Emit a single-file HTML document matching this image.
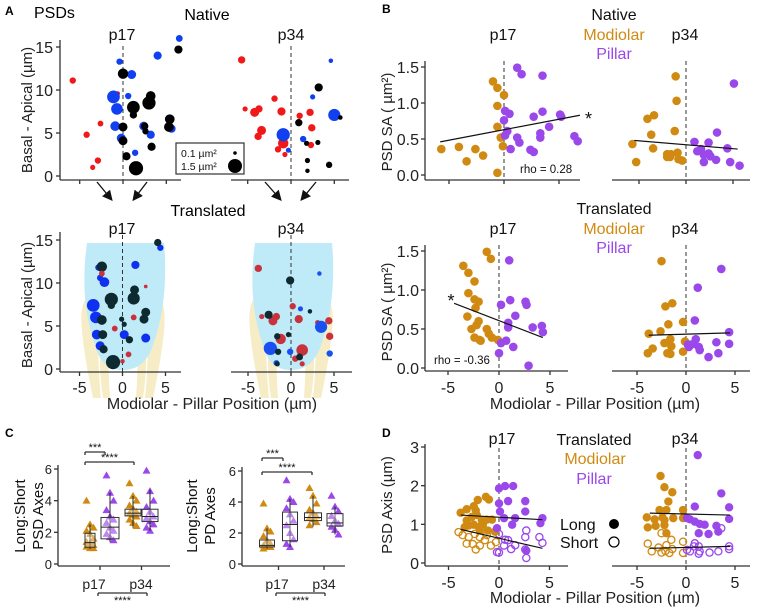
<!DOCTYPE html>
<html><head><meta charset="utf-8">
<style>
body{margin:0;background:#fff}
svg{display:block;font-family:"Liberation Sans",sans-serif}
</style></head>
<body>
<svg id="fig" width="758" height="609" viewBox="0 0 758 609">
<g id="static">
<text x="5" y="15" font-size="12" font-weight="bold">A</text>
<text x="34" y="18" font-size="16">PSDs</text>
<text x="207" y="20" font-size="16" text-anchor="middle">Native</text>
<text x="208" y="216" font-size="16" text-anchor="middle">Translated</text>
<text x="382" y="13" font-size="12" font-weight="bold">B</text>
<text x="5" y="437" font-size="12" font-weight="bold">C</text>
<text x="382" y="437" font-size="12" font-weight="bold">D</text>
</g>
<g id="plots"></g>
</svg>
<script>
// ---------- DATA ----------
const aNat17Red=[[-5.8,11.1,.3],[-4.2,4.8,.3],[-2.6,6.1,.25],[-2.9,1.8,.3],[-3.5,1.0,.2],[-0.6,9.6,.15]];
const aNat17Blue=[[-0.4,13.3,.3],[1.0,11.8,.6],[-1.1,9.2,1.2],[-0.7,7.8,1.0],[-0.9,5.8,.7],[0.6,9.3,.3],[-0.2,4.4,.6],[1.4,2.7,.3],[2.4,5.8,.6],[3.2,4.8,.5],[4.0,14.0,.5],[5.6,5.5,.5],[6.5,16.0,.35]];
const aNat17Black=[[0,11.9,.8],[0,5.7,.6],[0,4.1,.6],[1.2,8.0,1.2],[1.2,7.1,.4],[3.0,8.5,1.3],[3.2,9.3,.7],[2.5,5.8,.4],[2.6,5.2,.3],[3.3,3.4,.5],[5.4,6.6,.7],[5.3,5.7,.7],[0.4,2.3,.5],[1.5,0.9,1.5],[6.4,14.7,.5]];
const aNat34Red=[[-5.7,13.5,.4],[-5.3,7.8,.2],[-4.2,7.4,.6],[-3.7,7.8,.4],[-3.4,5.3,.6],[-3.8,4.6,.4],[-1.9,9.0,.3],[-1.1,7.5,.5],[-0.9,3.8,.8],[-1.5,3.1,.3],[-0.7,2.5,.2],[1.0,7.0,.3],[2.2,7.4,.4],[2.4,5.6,.4],[2.3,3.6,.3]];
const aNat34Blue=[[-0.9,4.8,1.3],[-0.3,3.0,.2],[1.4,4.3,.3],[2.5,9.2,.2],[4.6,13.4,.15],[5.0,7.1,1.1]];
const aNat34Black=[[3.2,10.3,.5],[0.9,6.2,.4],[1.8,3.8,.2],[3.1,3.9,.2],[1.9,1.8,.2],[1.9,0.6,.15],[4.4,1.3,.3],[5.7,6.8,.15]];
const aTr17Dark=[[-2.4,11.9,.8],[-1.3,8.1,1.3],[-1.3,7.4,.4],[1.3,8.2,1.1],[1.4,9.2,.6],[-2.4,5.7,.7],[-2.3,4.0,.6],[-2.2,2.3,.5],[-0.1,5.8,.2],[0.2,5.2,.2],[0.8,3.4,.4],[2.7,6.6,.6],[2.5,5.8,.6],[-1.1,0.8,1.5],[4.1,14.7,.4]];
const aTr17Blue=[[-3.4,7.4,1.2],[-3.1,6.0,1.0],[-2.1,10.1,.7],[-2.6,10.6,.3],[-3.0,4.0,.7],[-2.6,2.7,.6],[0.2,4.0,.6],[1.5,12.1,.5],[2.7,3.6,.6],[4.4,14.1,.3],[-2.8,11.8,.3]];
const aTr17Red=[[-2.4,11.1,.25],[-0.9,4.7,.25],[1.3,6.0,.25],[0.7,1.7,.25],[2.7,9.6,.1],[0,0.9,.15]];
const aTr34Dark=[[-0.1,10.3,.5],[-2.6,6.3,.5],[-0.3,4.0,.2],[-1.6,3.8,.3],[-1.5,2.0,.3],[-1.6,0.6,.2],[1.0,1.4,.35],[2.2,6.7,.15]];
const aTr34Red=[[-3.8,11.7,.4],[-3.4,6.1,.2],[-2.1,5.6,.6],[-1.7,6.1,.4],[-1.2,3.5,.8],[0.2,7.3,.3],[0.9,5.8,.5],[1.3,2.2,1.0],[4.4,5.6,.4],[4.5,3.8,.4],[1.3,0.6,.2],[0.5,1.2,.3],[3.1,5.4,.2]];
const aTr34Blue=[[3.3,11.1,.15],[1.1,7.0,.2],[-2.4,2.4,1.3],[3.5,4.9,1.1],[-0.1,2.0,.3],[-1.7,0.7,.25],[4.5,1.8,.3]];
const bNat17Mod=[[-5.7,.36],[-4.1,.39],[-3.4,.19],[-2.6,.36],[-1.9,.27],[-1.0,1.30],[-0.6,1.21],[-0.6,.96],[0,1.11],[-0.6,.67],[-0.3,.52],[-0.1,.40],[-0.6,.03]];
const bNat17Pil=[[1.2,1.49],[1.6,1.40],[3.5,1.38],[0.1,.89],[.5,.85],[0,.76],[.3,.61],[.1,.55],[.6,.36],[1.2,.52],[1.4,.45],[2.7,.81],[3.5,.88],[4.1,.67],[3.3,.58],[3.3,.52],[2.4,.35],[2.7,.32],[5.1,.84],[5.2,.81],[6.4,.54],[6.7,.47]];
const bNat17Fit=[[-5.8,.46],[6.9,.83]];
const bNat34Mod=[[-5.7,.43],[-5.3,.18],[-4.1,.78],[-3.4,.83],[-3.7,.56],[-3.5,.37],[-1.1,1.37],[-1.0,1.03],[-1.2,.61],[-2.0,.29],[-1.6,.29],[-1.7,.25],[-.9,.31],[-.8,.22],[-.4,.20],[-2.0,.25]];
const bNat34Pil=[[.9,.46],[2.4,.45],[3.3,.59],[1.2,.33],[1.6,.36],[1.9,.28],[2.4,.30],[1.9,.18],[2.6,.26],[3.2,.21],[4.4,.37],[4.7,.18],[5.7,.13],[5.1,1.27]];
const bNat34Fit=[[-5.5,.48],[5.5,.36]];
const bTr17Mod=[[-3.5,1.31],[-3.0,1.22],[-2.4,1.11],[-3.0,.96],[-2.4,.88],[-2.0,.85],[-2.3,.77],[-3.1,.66],[-2.0,.60],[-2.2,.55],[-2.7,.50],[-2.4,.39],[-1.8,.35],[-1.2,.50],[-1.0,.44],[-.7,.39],[-.1,.36],[-1.2,1.49],[-.8,1.40],[-1.9,.36]];
const bTr17Pil=[[1.0,1.38],[.2,.81],[1.1,.87],[2.6,.85],[2.7,.81],[1.6,.67],[.9,.58],[.9,.52],[.7,.35],[.2,.32],[1.4,.27],[0,.19],[3.3,.52],[4.3,.46],[2.9,.03],[4.2,.54]];
const bTr17Fit=[[-4.4,.83],[4.3,.39]];
const bTr34Mod=[[-2.5,1.37],[-2.1,.79],[-1.4,.83],[-1.8,.56],[-.3,.59],[-3.8,.44],[-2.6,.47],[-3.9,.19],[-3.4,.25],[-2.2,.32],[-1.6,.37],[-1.5,.28],[-1.9,.19],[-1.6,.18],[-.3,.21],[-.1,.34]];
const bTr34Pil=[[3.6,1.27],[1.2,1.03],[.9,.61],[1.0,.37],[.2,.30],[.5,.30],[.8,.31],[1.3,.27],[1.4,.23],[2.3,.14],[3.1,.33],[3.3,.19],[4.4,.46],[4.4,.31],[.3,.27]];
const bTr34Fit=[[-3.8,.42],[4.5,.45]];
const d17ModLong=[[-3.8,1.30],[-3.2,1.39],[-2.5,1.47],[-2.1,1.63],[-1.3,1.71],[-1.0,1.64],[-3.2,1.10],[-2.7,1.19],[-2.2,1.24],[-2.3,1.36],[-1.7,1.10],[-1.2,1.12],[-.7,1.12],[-3.4,.93],[-2.5,.99],[-2.0,.93],[-3.0,.97],[-1.1,.84],[-.4,.81],[-1.6,.99],[-1.9,.84]];
const d17ModShort=[[-4.0,.80],[-3.6,.72],[-3.0,.67],[-2.4,.75],[-1.9,.67],[-1.2,.72],[-2.6,.49],[-1.9,.45],[-2.3,.35],[-.8,.45],[-.3,.54],[-1.4,.59],[-3.2,.50]];
const d17PilLong=[[0,1.93],[.6,1.99],[1.4,1.99],[0,1.54],[.9,1.60],[2.6,1.60],[.1,1.33],[.5,1.16],[1.6,1.16],[2.6,1.33],[1.3,.99],[4.1,1.03],[4.3,1.16],[-.2,.90],[2.7,.32]];
const d17PilShort=[[0,.75],[.6,.60],[.9,.59],[1.6,.46],[.5,.45],[1.2,.36],[0,.27],[-.2,.28],[2.6,.67],[2.7,.84],[4.0,.67],[4.3,.52],[2.7,.13],[2.6,.35]];
const d17FitLong=[[-3.8,1.24],[4.3,1.12]];
const d17FitShort=[[-3.8,.87],[4.3,.38]];
const d34ModLong=[[-2.6,2.25],[-2.2,1.96],[-1.4,1.83],[-1.8,1.59],[-2.0,1.37],[-2.7,1.37],[-4.0,1.18],[-2.4,1.18],[-1.3,1.16],[-2.2,1.11],[-.3,1.37],[-.3,1.16],[-3.2,1.13],[-3.1,.96],[-3.9,.92],[-2.2,.98],[-2.0,.77]];
const d34ModShort=[[-3.9,.50],[-2.5,.77],[-3.5,.30],[-2.8,.40],[-2.5,.27],[-2.0,.46],[-1.5,.60],[-1.4,.36],[-1.7,.26],[-.3,.55],[-.3,.26],[-2.1,.31]];
const d34PilLong=[[1.2,2.79],[3.6,1.80],[.9,1.46],[4.4,1.44],[4.4,1.14],[.1,1.16],[.4,1.13],[.9,1.07],[1.4,1.01],[1.9,.99],[3.1,.96],[3.3,.81],[1.3,.77],[2.3,.75]];
const d34PilShort=[[.1,.34],[.8,.43],[.9,.51],[1.3,.43],[1.4,.30],[2.4,.27],[3.3,.30],[3.6,.90],[4.4,.43],[4.4,.36],[.4,.30],[1.3,.24]];
const d34FitLong=[[-3.7,1.29],[4.5,1.24]];
const d34FitShort=[[-3.7,.38],[4.5,.43]];
const cGroups=["p17 modiolar","p17 pillar","p34 modiolar","p34 pillar"];
const cPsdStats=[[0.95,1.06,1.35,1.94,2.5],[1.4,1.59,2.33,2.94,4.5],[2.3,3.04,3.21,3.46,4.3],[2.1,2.68,3.0,3.46,4.7]];
const cPdStats=[[1.0,1.1,1.2,1.55,2.3],[1.1,1.5,2.55,3.35,4.2],[2.4,2.8,3.0,3.3,4.4],[1.9,2.45,2.65,3.25,3.7]];
const cPsdPoints=[[4.0,2.5,2.3,2.1,1.9,1.6,1.4,1.3,1.2,1.1,1.0,1.0],[5.6,4.5,4.0,3.4,3.0,2.8,2.6,2.3,2.1,1.9,1.7,1.5],[5.1,4.3,4.0,3.7,3.5,3.3,3.2,3.1,3.0,2.8,2.6,2.4],[5.9,4.6,4.0,3.6,3.3,3.0,2.9,2.7,2.5,2.3,2.1]];
const cPdPoints=[[3.9,2.3,2.1,1.8,1.5,1.3,1.2,1.1,1.1,1.0],[5.4,4.2,4.0,3.6,3.2,2.8,2.5,2.0,1.6,1.3,1.1],[4.9,4.4,3.9,3.5,3.3,3.1,3.0,2.9,2.7,2.5],[4.4,3.7,3.4,3.1,2.8,2.6,2.4,2.2,1.9]];
const aTicksY=[0,5,10,15];
const xTicks=[-5,0,5];
const bTicksY=[0,0.5,1.0,1.5];
const bTickLabels=["0.0","0.5","1.0","1.5"];
const dTicksY=[0,1,2,3];
const cTicksY=[0,2,4,6];

// ---------- DRAWING ----------
const NS="http://www.w3.org/2000/svg";
const root=document.getElementById('plots');
function mk(tag,attrs,parent){const e=document.createElementNS(NS,tag);for(const k in attrs)e.setAttribute(k,attrs[k]);(parent||root).appendChild(e);return e;}
function txt(x,y,s,size,anchor,fill,name,rot){const e=mk('text',{x:x,y:y,'font-size':size,'text-anchor':anchor||'start',fill:fill||'#111'});


if(rot)e.setAttribute('transform','rotate(-90 '+x+' '+y+')');e.textContent=s;return e;}
function line(x1,y1,x2,y2,name,extra){const e=mk('line',Object.assign({x1:x1,y1:y1,x2:x2,y2:y2,stroke:'#333','stroke-width':1.3},extra||{}));


return e;}
function scale(d0,d1,r0,r1){return v=>r0+(v-d0)*(r1-r0)/(d1-d0);}
function dots(data,sx,sy,fill,r,name,open){const g=mk('g',{});


data.forEach(p=>{const rr=typeof r==='function'?r(p):r;const c=mk('circle',{cx:sx(p[0]),cy:sy(p[1]),r:rr,fill:open?'none':fill,stroke:open?fill:'none','stroke-width':open?1.3:0},g);

});return g;}
const areaR=p=>5.8*Math.sqrt(p[2]);

// ---- Panel A ----
const aTopY=scale(0,15,176,47);
const a17x=scale(0,5,123,166.3), a34x=scale(0,5,291,334.3);
line(60,40,60,180,'a-native-y-axis');
line(60,180,181,180,'a-native-p17-x-axis');
line(231,180,349,180,'a-native-p34-x-axis');
aTicksY.forEach(t=>{line(56,aTopY(t),60,aTopY(t),'a-native-y-tick');txt(53,aTopY(t)+6,String(t),16,'end','#222','a-native-y-tick-label');});
xTicks.forEach(t=>{line(a17x(t),180,a17x(t),184,'a-native-p17-x-tick');line(a34x(t),180,a34x(t),184,'a-native-p34-x-tick');});
line(123,46,123,180,'a-native-p17-midline',{'stroke-dasharray':'4,3','stroke-width':1});
line(291,46,291,180,'a-native-p34-midline',{'stroke-dasharray':'4,3','stroke-width':1});
txt(122,40,'p17',16,'middle','#111','a-native-p17-title');
txt(291,40,'p34',16,'middle','#111','a-native-p34-title');
txt(32,110,'Basal - Apical (µm)',15,'middle','#222','a-native-y-axis-title',true);
dots(aNat17Red,a17x,aTopY,'#f01818',areaR,'a-native-p17-red');
dots(aNat17Blue,a17x,aTopY,'#1040f0',areaR,'a-native-p17-blue');
dots(aNat17Black,a17x,aTopY,'#000',areaR,'a-native-p17-black');
dots(aNat34Red,a34x,aTopY,'#f01818',areaR,'a-native-p34-red');
dots(aNat34Blue,a34x,aTopY,'#1040f0',areaR,'a-native-p34-blue');
dots(aNat34Black,a34x,aTopY,'#000',areaR,'a-native-p34-black');
const lg=mk('g',{});


mk('rect',{x:176,y:143,width:68,height:31,fill:'#fff',stroke:'#333','stroke-width':1.2},lg);
mk('circle',{cx:235,cy:153,r:1.8,fill:'#000'},lg);
mk('circle',{cx:235,cy:166,r:7,fill:'#000'},lg);
txt(181,157,'0.1 µm²',10.5,'start','#111','size-legend-small');
txt(181,170,'1.5 µm²',10.5,'start','#111','size-legend-large');
mk('defs',{}).innerHTML='<marker id="ah" markerWidth="8" markerHeight="8" refX="6" refY="4" orient="auto"><path d="M0,0 L8,4 L0,8 z" fill="#111"/></marker>';
[[97,182,111,199],[147,182,134,199],[265,182,280,199],[316,182,302,199]].forEach(a=>{line(a[0],a[1],a[2],a[3],'translation-arrow',{'marker-end':'url(#ah)','stroke':'#111'});});

const aBotY=scale(0,15,369,240);
const b17x=scale(0,5,122.5,165.5), b34x=scale(0,5,291,334);
function cellBg(cx,name){const g=mk('g',{});


const c=cx;
mk('path',{d:`M${c-38},300 q-6,10 -2,40 q3,25 10,58 h8 q-4,-40 -2,-70 q-4,-20 -14,-28z M${c+38},300 q6,10 2,40 q-3,25 -10,58 h-8 q4,-40 2,-70 q4,-20 14,-28z M${c-22},340 q-3,25 2,58 h7 q-2,-30 -2,-58z M${c+22},340 q3,25 -2,58 h-7 q2,-30 2,-58z`,fill:'#f6ecc5'},g);
mk('path',{d:`M${c-36},243 L${c+41},243 Q${c+46},300 ${c+30},345 Q${c+22},370 ${c},370 Q${c-22},370 ${c-28},345 Q${c-44},300 ${c-36},243z`,fill:'#bfeaf7'},g);
return g;}
cellBg(123,'p17-cell-outline');
cellBg(291,'p34-cell-outline');
line(60,232,60,372,'a-translated-y-axis');
line(60,372,181,372,'a-translated-p17-x-axis');
line(231,372,352,372,'a-translated-p34-x-axis');
aTicksY.forEach(t=>{line(56,aBotY(t),60,aBotY(t),'a-translated-y-tick');txt(53,aBotY(t)+6,String(t),16,'end','#222','a-translated-y-tick-label');});
xTicks.forEach(t=>{line(b17x(t),372,b17x(t),376,'a-translated-p17-x-tick');txt(b17x(t),393,String(t),16,'middle','#222','a-translated-p17-x-tick-label');
line(b34x(t),372,b34x(t),376,'a-translated-p34-x-tick');txt(b34x(t),393,String(t),16,'middle','#222','a-translated-p34-x-tick-label');});
line(122.5,235,122.5,372,'a-translated-p17-midline',{'stroke-dasharray':'4,3','stroke-width':1});
line(291,235,291,372,'a-translated-p34-midline',{'stroke-dasharray':'4,3','stroke-width':1});
txt(122,234,'p17',16,'middle','#111','a-translated-p17-title');
txt(291,234,'p34',16,'middle','#111','a-translated-p34-title');
txt(32,305,'Basal - Apical (µm)',15,'middle','#222','a-translated-y-axis-title',true);
txt(212,409,'Modiolar - Pillar Position (µm)',16,'middle','#222','a-x-axis-title');
dots(aTr17Blue,b17x,aBotY,'#1030f0',areaR,'a-translated-p17-blue');
dots(aTr17Dark,b17x,aBotY,'#0d2a30',areaR,'a-translated-p17-dark');
dots(aTr17Red,b17x,aBotY,'#c8323c',areaR,'a-translated-p17-red');
dots(aTr34Red,b34x,aBotY,'#c8323c',areaR,'a-translated-p34-red');
dots(aTr34Blue,b34x,aBotY,'#1a50f0',areaR,'a-translated-p34-blue');
dots(aTr34Dark,b34x,aBotY,'#0d2a30',areaR,'a-translated-p34-dark');

// ---- Panel B ----
const MOD='#d08a12', PIL='#9a48ea';
function bPanel(opts){
 const sy=scale(0,1.5,opts.y0,opts.y15);
 const s17=scale(0,5,opts.z17,opts.f17), s34=scale(0,5,opts.z34,opts.f34);
 const p=opts.prefix;
 line(425,opts.y15-6,425,opts.ax,p+'-y-axis');
 line(425,opts.ax,opts.x17end,opts.ax,p+'-p17-x-axis');
 line(612,opts.ax,750,opts.ax,p+'-p34-x-axis');
 opts.ticks.forEach((t,i)=>{line(421,sy(t),425,sy(t),p+'-y-tick');txt(419,sy(t)+6,opts.labels[i],16,'end','#222',p+'-y-tick-label');});
 xTicks.forEach(t=>{line(s17(t),opts.ax,s17(t),opts.ax+4,p+'-p17-x-tick');line(s34(t),opts.ax,s34(t),opts.ax+4,p+'-p34-x-tick');
  if(opts.xlabels){txt(s17(t),opts.ax+22,String(t),16,'middle','#222',p+'-p17-x-tick-label');txt(s34(t),opts.ax+22,String(t),16,'middle','#222',p+'-p34-x-tick-label');}});
 line(s17(0),opts.y15-6,s17(0),opts.ax,p+'-p17-midline',{'stroke-dasharray':'4,3','stroke-width':1.2,stroke:'#555'});
 line(s34(0),opts.y15-6,s34(0),opts.ax,p+'-p34-midline',{'stroke-dasharray':'4,3','stroke-width':1.2,stroke:'#555'});
 return {sy,s17,s34};
}
function fit(data,sx,sy,name){line(sx(data[0][0]),sy(data[0][1]),sx(data[1][0]),sy(data[1][1]),name,{stroke:'#111','stroke-width':1.2});}
let B1=bPanel({prefix:'b-native',y0:175,y15:67,ax:180,z17:504,f17:559,z34:686,f34:733,x17end:580,ticks:bTicksY,labels:bTickLabels,xlabels:false});
dots(bNat17Mod,B1.s17,B1.sy,MOD,4.3,'b-native-p17-modiolar');
dots(bNat17Pil,B1.s17,B1.sy,PIL,4.3,'b-native-p17-pillar');
dots(bNat34Mod,B1.s34,B1.sy,MOD,4.3,'b-native-p34-modiolar');
dots(bNat34Pil,B1.s34,B1.sy,PIL,4.3,'b-native-p34-pillar');
fit(bNat17Fit,B1.s17,B1.sy,'b-native-p17-fit');
fit(bNat34Fit,B1.s34,B1.sy,'b-native-p34-fit');
txt(585,125,'*',18,'start','#111','b-native-significance');
txt(520,173,'rho = 0.28',11.5,'start','#111','b-native-rho');
txt(503,40,'p17',16,'middle','#111','b-native-p17-title');
txt(685,40,'p34',16,'middle','#111','b-native-p34-title');
txt(614,20,'Native',16,'middle','#111','b-native-title');
txt(614,40,'Modiolar',16,'middle',MOD,'b-native-legend-modiolar');
txt(614,59,'Pillar',16,'middle',PIL,'b-native-legend-pillar');
txt(392,122,'PSD SA ( µm²)',15,'middle','#222','b-native-y-axis-title',true);
let B2=bPanel({prefix:'b-translated',y0:368,y15:251,ax:371,z17:499,f17:550,z34:686,f34:735,x17end:568,ticks:bTicksY,labels:bTickLabels,xlabels:true});
dots(bTr17Mod,B2.s17,B2.sy,MOD,4.3,'b-translated-p17-modiolar');
dots(bTr17Pil,B2.s17,B2.sy,PIL,4.3,'b-translated-p17-pillar');
dots(bTr34Mod,B2.s34,B2.sy,MOD,4.3,'b-translated-p34-modiolar');
dots(bTr34Pil,B2.s34,B2.sy,PIL,4.3,'b-translated-p34-pillar');
fit(bTr17Fit,B2.s17,B2.sy,'b-translated-p17-fit');
fit(bTr34Fit,B2.s34,B2.sy,'b-translated-p34-fit');
txt(451,307,'*',18,'middle','#111','b-translated-significance');
txt(434,364,'rho = -0.36',11.5,'start','#111','b-translated-rho');
txt(503,234,'p17',16,'middle','#111','b-translated-p17-title');
txt(685,234,'p34',16,'middle','#111','b-translated-p34-title');
txt(614,214,'Translated',16,'middle','#111','b-translated-title');
txt(614,234,'Modiolar',16,'middle',MOD,'b-translated-legend-modiolar');
txt(614,253,'Pillar',16,'middle',PIL,'b-translated-legend-pillar');
txt(392,312,'PSD SA ( µm²)',15,'middle','#222','b-translated-y-axis-title',true);
txt(595,409,'Modiolar - Pillar Position (µm)',16,'middle','#222','b-x-axis-title');

// ---- Panel D ----
const dY=scale(0,3,563,447);
const d17=scale(0,5,499,549.5), d34=scale(0,5,686,735);
line(425,444,425,566,'d-y-axis');
line(425,566,568,566,'d-p17-x-axis');
line(612,566,750,566,'d-p34-x-axis');
dTicksY.forEach(t=>{line(421,dY(t),425,dY(t),'d-y-tick');txt(419,dY(t)+6,String(t),16,'end','#222','d-y-tick-label');});
xTicks.forEach(t=>{line(d17(t),566,d17(t),570,'d-p17-x-tick');line(d34(t),566,d34(t),570,'d-p34-x-tick');
 txt(d17(t),588,String(t),16,'middle','#222','d-p17-x-tick-label');txt(d34(t),588,String(t),16,'middle','#222','d-p34-x-tick-label');});
line(d17(0),448,d17(0),566,'d-p17-midline',{'stroke-dasharray':'4,3','stroke-width':1.2,stroke:'#555'});
line(d34(0),448,d34(0),566,'d-p34-midline',{'stroke-dasharray':'4,3','stroke-width':1.2,stroke:'#555'});
dots(d17ModShort,d17,dY,MOD,3.6,'d-p17-modiolar-short',true);
dots(d17PilShort,d17,dY,PIL,3.6,'d-p17-pillar-short',true);
dots(d17ModLong,d17,dY,MOD,4.2,'d-p17-modiolar-long');
dots(d17PilLong,d17,dY,PIL,4.2,'d-p17-pillar-long');
dots(d34ModShort,d34,dY,MOD,3.6,'d-p34-modiolar-short',true);
dots(d34PilShort,d34,dY,PIL,3.6,'d-p34-pillar-short',true);
dots(d34ModLong,d34,dY,MOD,4.2,'d-p34-modiolar-long');
dots(d34PilLong,d34,dY,PIL,4.2,'d-p34-pillar-long');
fit(d17FitLong,d17,dY,'d-p17-fit-long');
fit(d17FitShort,d17,dY,'d-p17-fit-short');
fit(d34FitLong,d34,dY,'d-p34-fit-long');
fit(d34FitShort,d34,dY,'d-p34-fit-short');
txt(502,444,'p17',16,'middle','#111','d-p17-title');
txt(685,444,'p34',16,'middle','#111','d-p34-title');
txt(594,445,'Translated',16,'middle','#111','d-title');
txt(595,464,'Modiolar',16,'middle',MOD,'d-legend-modiolar');
txt(594,484,'Pillar',16,'middle',PIL,'d-legend-pillar');
txt(560,530,'Long',16,'start','#111','d-legend-long');
txt(560,548,'Short',16,'start','#111','d-legend-short');
let lc=mk('circle',{cx:614,cy:524,r:5,fill:'#000'});


let sc=mk('circle',{cx:614,cy:542,r:5,fill:'none',stroke:'#000','stroke-width':1.2});


txt(392,505,'PSD Axis (µm)',15,'middle','#222','d-y-axis-title',true);
txt(595,603,'Modiolar - Pillar Position (µm)',16,'middle','#222','d-x-axis-title');

// ---- Panel C ----
function triangles(vals,cx,sy,color,name){const g=mk('g',{});


vals.forEach((v,i)=>{const x=cx+((i%3)-1)*3.5,y=sy(v);mk('path',{d:`M${x},${y-4} L${x+4},${y+3} L${x-4},${y+3}z`,fill:color},g);});}
function cPanel(p,ax,axEnd,centers,widths,stats,pts,y0,y6,titleX,t1,t2,pLabX,brk){
 const sy=scale(0,6,y0,y6);
 line(ax,y6-4,ax,566,p+'-y-axis');
 line(ax,566,axEnd,566,p+'-x-axis');
 cTicksY.forEach(t=>{line(ax-4,sy(t),ax,sy(t),p+'-y-tick');txt(ax-6,sy(t)+5,String(t),13,'end','#222',p+'-y-tick-label');});
 [0,1].forEach(i=>{const x=(centers[i*2]+centers[i*2+1])/2;line(x,566,x,570,p+'-x-tick');});
 txt(pLabX[0],589,'p17',14,'middle','#222',p+'-p17-label');
 txt(pLabX[1],589,'p34',14,'middle','#222',p+'-p34-label');
 stats.forEach((s,i)=>{const c=centers[i],w=widths[i],col=i%2?PIL:MOD;
  triangles(pts[i],c,sy,col,p+'-'+cGroups[i].replace(' ','-')+'-points');
  const g=mk('g',{});
  
  
  mk('line',{x1:c,y1:sy(s[0]),x2:c,y2:sy(s[4]),stroke:'#222','stroke-width':1},g);
  mk('rect',{x:c-w/2,y:sy(s[3]),width:w,height:sy(s[1])-sy(s[3]),fill:'rgba(255,255,255,0.35)',stroke:'#333','stroke-width':1},g);
  mk('line',{x1:c-w/2,y1:sy(s[2]),x2:c+w/2,y2:sy(s[2]),stroke:'#222','stroke-width':1},g);});
 txt(titleX,516,t1,15,'middle','#111',p+'-y-axis-title-line1',true);
 txt(titleX+18,516,t2,15,'middle','#111',p+'-y-axis-title-line2',true);
 brk.forEach(b=>{line(b[0],b[2]+3,b[0],b[2],p+'-bracket');line(b[0],b[2],b[1],b[2],p+'-bracket');line(b[1],b[2],b[1],b[2]+3,p+'-bracket');
  txt((b[0]+b[1])/2,b[2]-(b[3]?-11:1),b[3]?'****':b[4],11,'middle','#111',p+'-significance');});
}
cPanel('c-psd',58,170,[90,110,133,150],[10,18,16,16],cPsdStats,cPsdPoints,564,469,25,'Long:Short','PSD Axes',[94,141],
 [[85,105,452,false,'***'],[85,134,462,false,'****'],[98,147,593,true]]);
cPanel('c-pd',242,345,[267,290,313,335],[15,15,17,16],cPdStats,cPdPoints,564,471,197,'Long:Short','PD Axes',[277,324],
 [[262,283,458,false,'***'],[262,312,472,false,'****'],[276,325,593,true]]);
</script>
</body></html>
